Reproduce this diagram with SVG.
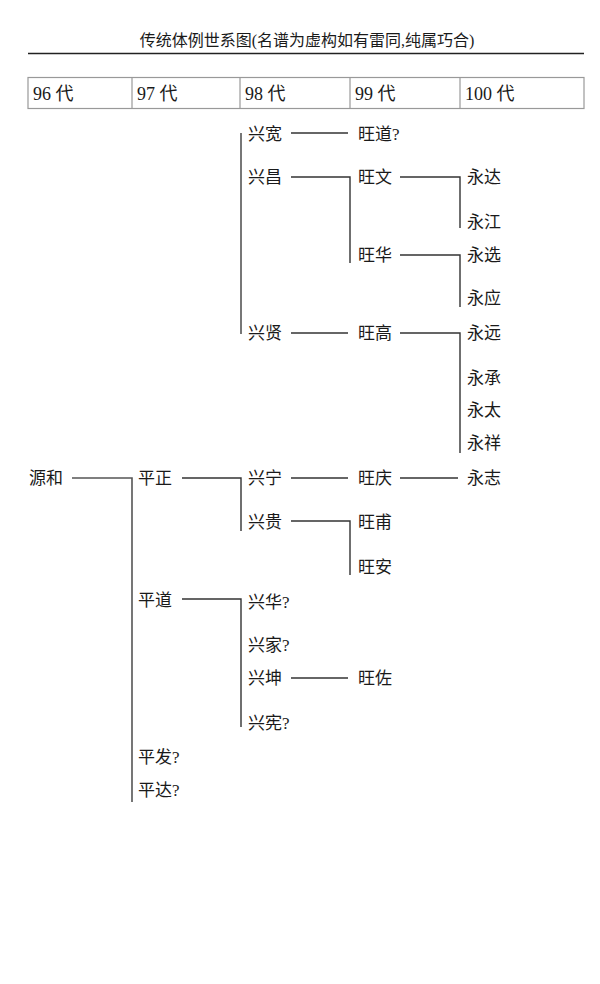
<svg xmlns="http://www.w3.org/2000/svg" width="600" height="984" viewBox="0 0 600 984">
<style>
text{font-family:"Liberation Serif","Noto Sans CJK SC",serif;fill:#1a1a1a}
.t{font-size:17px}
.h{font-size:18px}
.title{font-size:16px}
.c{stroke:#333;stroke-width:1.4;fill:none}
.v{stroke:#555;stroke-width:1.6;fill:none}
</style>
<rect width="600" height="984" fill="#fff"/>
<g id="title">
<text class="title" x="307" y="46" text-anchor="middle">传统体例世系图(名谱为虚构如有雷同,纯属巧合)</text>
<line x1="28" y1="53.5" x2="584" y2="53.5" stroke="#222" stroke-width="1.6"/>
</g>
<g id="header">
<rect x="28" y="77.5" width="556" height="31" fill="none" stroke="#999" stroke-width="1.2"/>
<line x1="132" y1="77.5" x2="132" y2="108.5" stroke="#999" stroke-width="1.2"/>
<line x1="240" y1="77.5" x2="240" y2="108.5" stroke="#999" stroke-width="1.2"/>
<line x1="350" y1="77.5" x2="350" y2="108.5" stroke="#999" stroke-width="1.2"/>
<line x1="460" y1="77.5" x2="460" y2="108.5" stroke="#999" stroke-width="1.2"/>
<text class="h" x="33" y="100">96 代</text>
<text class="h" x="137" y="100">97 代</text>
<text class="h" x="245" y="100">98 代</text>
<text class="h" x="355" y="100">99 代</text>
<text class="h" x="465" y="100">100 代</text>
</g>
<g id="connectors">
<line class="v" x1="241" y1="133" x2="241" y2="334"/>
<line class="c" x1="291" y1="133" x2="348" y2="133"/>
<path class="c" d="M291 177 H350 V263"/>
<path class="c" d="M400 177 H460 V228"/>
<path class="c" d="M400 255 H460 V307"/>
<line class="c" x1="291" y1="333" x2="348" y2="333"/>
<path class="c" d="M400 333 H460 V453"/>
<path class="v" d="M72 478 H132 V802"/>
<path class="c" d="M182 478 H241 V531"/>
<line class="c" x1="291" y1="478" x2="348" y2="478"/>
<line class="c" x1="400" y1="478" x2="458" y2="478"/>
<path class="c" d="M291 521 H350 V575"/>
<path class="c" d="M182 599 H241 V727"/>
<line class="c" x1="291" y1="678" x2="348" y2="678"/>
</g>
<g id="n-xingkuan"><text class="t" x="248" y="140">兴宽</text></g>
<g id="n-wangdao"><text class="t" x="358" y="140">旺道?</text></g>
<g id="n-xingchang"><text class="t" x="248" y="183">兴昌</text></g>
<g id="n-wangwen"><text class="t" x="358" y="183">旺文</text></g>
<g id="n-yongda"><text class="t" x="467" y="183">永达</text></g>
<g id="n-yongjiang"><text class="t" x="467" y="228">永江</text></g>
<g id="n-wanghua"><text class="t" x="358" y="261">旺华</text></g>
<g id="n-yongxuan"><text class="t" x="467" y="261">永选</text></g>
<g id="n-yongying"><text class="t" x="467" y="304">永应</text></g>
<g id="n-xingxian"><text class="t" x="248" y="339">兴贤</text></g>
<g id="n-wanggao"><text class="t" x="358" y="339">旺高</text></g>
<g id="n-yongyuan"><text class="t" x="467" y="339">永远</text></g>
<g id="n-yongcheng"><text class="t" x="467" y="384">永承</text></g>
<g id="n-yongtai"><text class="t" x="467" y="416">永太</text></g>
<g id="n-yongxiang"><text class="t" x="467" y="449">永祥</text></g>
<g id="n-yuanhe"><text class="t" x="29" y="484">源和</text></g>
<g id="n-pingzheng"><text class="t" x="138" y="484">平正</text></g>
<g id="n-xingning"><text class="t" x="248" y="484">兴宁</text></g>
<g id="n-wangqing"><text class="t" x="358" y="484">旺庆</text></g>
<g id="n-yongzhi"><text class="t" x="467" y="484">永志</text></g>
<g id="n-xinggui"><text class="t" x="248" y="528">兴贵</text></g>
<g id="n-wangfu"><text class="t" x="358" y="528">旺甫</text></g>
<g id="n-wangan"><text class="t" x="358" y="573">旺安</text></g>
<g id="n-pingdao"><text class="t" x="138" y="606">平道</text></g>
<g id="n-xinghua"><text class="t" x="248" y="608">兴华?</text></g>
<g id="n-xingjia"><text class="t" x="248" y="651">兴家?</text></g>
<g id="n-xingkun"><text class="t" x="248" y="684">兴坤</text></g>
<g id="n-wangzuo"><text class="t" x="358" y="684">旺佐</text></g>
<g id="n-xingxian2"><text class="t" x="248" y="729">兴宪?</text></g>
<g id="n-pingfa"><text class="t" x="138" y="763">平发?</text></g>
<g id="n-pingda"><text class="t" x="138" y="796">平达?</text></g>
</svg>
